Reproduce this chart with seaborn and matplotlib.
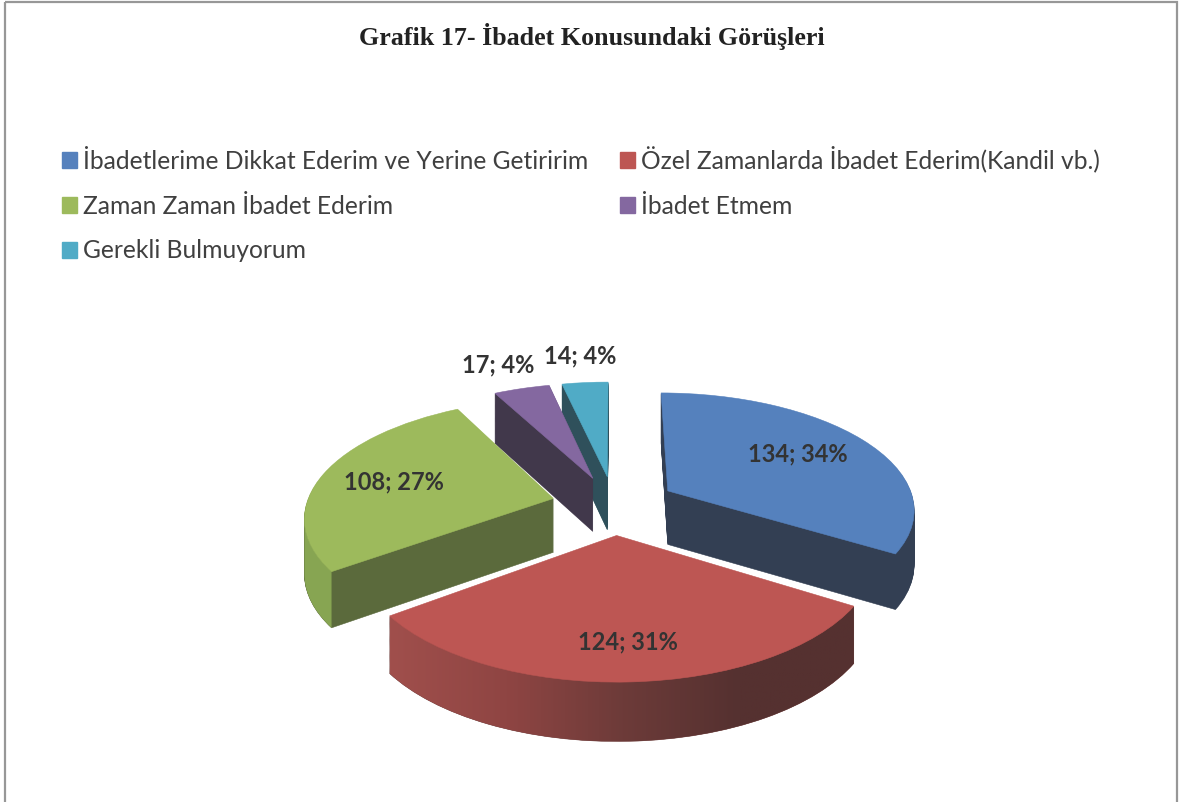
import numpy as np
import matplotlib
matplotlib.use("Agg")
import matplotlib.pyplot as plt
import seaborn as sns
from matplotlib.patches import Polygon, Rectangle
from matplotlib.path import Path
from matplotlib.transforms import Transform

names = ["İbadetlerime Dikkat Ederim ve Yerine Getiririm",
         "Özel Zamanlarda İbadet Ederim(Kandil vb.)",
         "Zaman Zaman İbadet Ederim",
         "İbadet Etmem",
         "Gerekli Bulmuyorum"]
values = [134, 124, 108, 17, 14]
face_colors = ["#5581BD", "#BD5653", "#9DBA5C", "#8468A0", "#50ABC6"]
wall_colors = ["#333F53", "#6D3B39", "#5B6A3C", "#41384B", "#2F505B"]
red_wall = ["#A04F4C", "#8F4543", "#6D3B39", "#553130", "#553130"]
green_wall = "#87A552"
explode = [0.245] * 5
# back to front
draw_order = [4, 3, 2, 0, 1]
label_xy = [(798, 454), (628, 642), (394, 482), (498, 365), (580, 356)]

# fake 3d: pie is flat, this tilts it into pixel coords
cx, cy = 614, 505
A, B, p = 256, 120, 0.149
depth = 54
radius = 0.965


class Tilt(Transform):
    input_dims = 2
    output_dims = 2

    def __init__(self, z=0):
        super().__init__()
        self.z = z

    def transform_non_affine(self, v):
        v = np.asarray(v)
        x, y = v[:, 0], v[:, 1]
        w = 1 + p * y
        return np.column_stack([cx + A * x / w,
                                cy - B * y / w + self.z / (1 + 0.5 * p * y)])


sns.set_theme(style="white")
plt.rcParams["font.family"] = ["Lato", "DejaVu Sans"]

fig = plt.figure(figsize=(11.82, 8.02), dpi=100)
ax = fig.add_axes([0, 0, 1, 1])

for z in range(depth, -1, -1):
    wedges, _ = ax.pie(values, explode=explode, startangle=90, counterclock=False,
                       radius=radius, colors=face_colors if z == 0 else wall_colors,
                       wedgeprops={"linewidth": 0.4})
    for rank, i in enumerate(draw_order):
        wedges[i].set_transform(Tilt(z) + ax.transData)
        wedges[i].set_edgecolor(wedges[i].get_facecolor())
        # top face goes above the walls of its own slice only
        wedges[i].set_zorder(2 + rank * 3 + (2 if z == 0 else 0))

ax.set_aspect("auto")
ax.set_xlim(0, 1182)
ax.set_ylim(802, 0)
ax.axis("off")


def outer_wall(i, stop=None):
    # polygon of the rim of slice i, between top face and bottom
    ends = np.cumsum(values) / np.sum(values) * 2 * np.pi
    start = 0 if i == 0 else ends[i - 1]
    t = np.linspace(start, ends[i] if stop is None else stop, 80)
    mid = (start + ends[i]) / 2
    off = explode[i]
    pts = np.column_stack([radius * np.sin(t) + off * np.sin(mid),
                           radius * np.cos(t) + off * np.cos(mid)])
    return np.vstack([Tilt(0).transform_non_affine(pts),
                      Tilt(depth).transform_non_affine(pts)[::-1]])


# green rim is lighter than its cut face, stop where the tilted arc is leftmost
ax.add_patch(Polygon(outer_wall(2, np.radians(260)), closed=True, color=green_wall, lw=0,
                     zorder=2 + draw_order.index(2) * 3 + 1))

# red rim has a shaded gradient
red_pts = outer_wall(1)
im = ax.imshow(np.linspace(0, 1, 256).reshape(1, -1),
               cmap=sns.blend_palette(red_wall, as_cmap=True), aspect="auto",
               extent=(red_pts[:, 0].min(), red_pts[:, 0].max(),
                       red_pts[:, 1].max(), red_pts[:, 1].min()),
               zorder=2 + draw_order.index(1) * 3 + 1)
im.set_clip_path(Path(red_pts, closed=False), ax.transData)
ax.set_xlim(0, 1182)
ax.set_ylim(802, 0)

total = sum(values)
for v, (lx, ly) in zip(values, label_xy):
    ax.text(lx, ly, f"{v}; {round(v / total * 100)}%", ha="center", va="center",
            fontsize=17, fontweight="bold", color="#333333", zorder=30)

ax.text(592, 37, "Grafik 17- İbadet Konusundaki Görüşleri", ha="center", va="center",
        family="Liberation Serif", fontweight="bold", fontsize=18.7, color="#222222")

handles = [plt.Rectangle((0, 0), 1, 1, color=c) for c in face_colors]
order = [0, 2, 4, 1, 3]
ax.legend([handles[i] for i in order], [names[i] for i in order], ncols=2,
          loc="upper left", bbox_to_anchor=(62 / 1182, 1 - 146 / 802),
          frameon=False, fontsize=17.7, labelcolor="#404040",
          handlelength=0.59, handleheight=0.59, handletextpad=0.27,
          labelspacing=0.89, columnspacing=1.3, borderpad=0, borderaxespad=0)

ax.add_patch(Rectangle((5, 1.7), 1172, 830, fill=False, edgecolor="#979797", lw=1.6, zorder=40))

fig.savefig("out.png", dpi=100, facecolor="white")
